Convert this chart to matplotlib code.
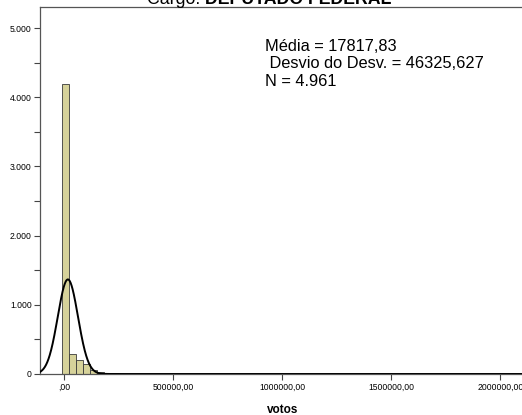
import numpy as np
import matplotlib
matplotlib.use("Agg")
import matplotlib.pyplot as plt
from matplotlib.ticker import FuncFormatter, MultipleLocator

plt.rcParams['font.family'] = ['Liberation Sans', 'DejaVu Sans']

# histogram of votos (bin counts)
bin_start = -8000
bin_width = 32000
counts = [4190, 285, 205, 145, 60, 30, 12, 8, 6, 4, 3, 3, 2, 2, 1, 1, 1, 1, 1, 1]

media = 17817.83
desvio = 46325.627
n = 4961

xticks = [0, 500000, 1000000, 1500000, 2000000]
yticks = [0, 1000, 2000, 3000, 4000, 5000]
stats_lines = ['Média = 17817,83', ' Desvio do Desv. = 46325,627', 'N = 4.961']

fig = plt.figure(figsize=(5.22, 4.15), dpi=100)
ax = fig.add_axes([0.0766, 0.0988, 0.93, 0.884])

edges = bin_start + bin_width * np.arange(len(counts))
ax.bar(edges, counts, width=bin_width, align='edge', color='#d6d29a',
       edgecolor='#3a3a3a', linewidth=0.6, zorder=2)

# normal curve from the stated mean / sd / N
xs = np.linspace(-110000, 2120000, 2000)
ys = n * bin_width / (desvio * np.sqrt(2 * np.pi)) * np.exp(-0.5 * ((xs - media) / desvio) ** 2)
ax.plot(xs, ys, color='black', linewidth=1.4, zorder=3)

ax.set_xlim(-110000, 2115000)
ax.set_ylim(0, 5303)
ax.set_xticks(xticks)
ax.set_yticks(yticks)
ax.yaxis.set_minor_locator(MultipleLocator(500))
ax.xaxis.set_major_formatter(FuncFormatter(
    lambda v, p: ',00' if v == 0 else f'{int(v)},00'))
ax.yaxis.set_major_formatter(FuncFormatter(
    lambda v, p: f'{int(v):,}'.replace(',', '.')))
ax.tick_params(axis='both', which='major', labelsize=6.2, length=4,
               width=0.8, color='#444444', pad=2)
ax.tick_params(axis='y', which='minor', length=4, width=0.8, color='#444444')
for s in ['left', 'bottom', 'top']:
    ax.spines[s].set_color('#555555')
    ax.spines[s].set_linewidth(0.9)
ax.spines['right'].set_visible(False)

ax.set_xlabel('votos', fontsize=8.5, fontweight='bold', labelpad=9)

for line, yb in zip(stats_lines, [0.880, 0.833, 0.785]):
    ax.text(0.464, yb, line, transform=ax.transAxes, fontsize=11.8,
            va='baseline', ha='left')

fig.text(0.393, 0.99, 'Cargo: ', fontsize=12.8, ha='right', va='baseline')
fig.text(0.393, 0.99, 'DEPUTADO FEDERAL', fontsize=12.8, fontweight='bold',
         ha='left', va='baseline')

fig.savefig('out.png', dpi=100)
